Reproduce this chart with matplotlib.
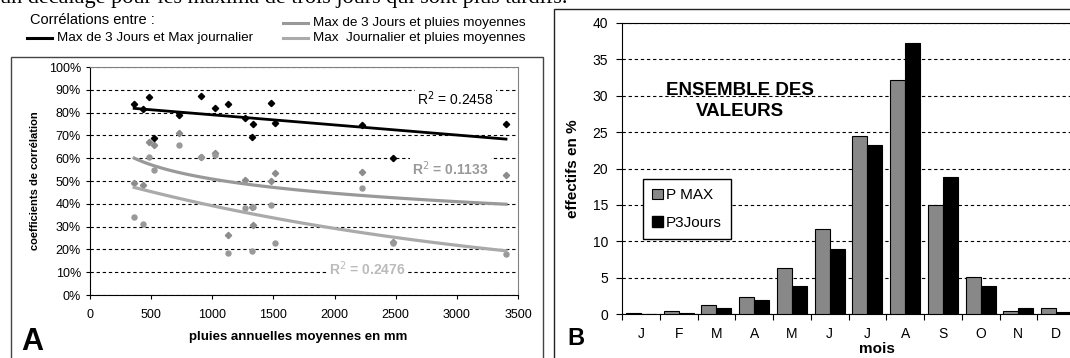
import numpy as np
import matplotlib
matplotlib.use('Agg')
import matplotlib.pyplot as plt
from matplotlib.lines import Line2D
from matplotlib.patches import Rectangle, Patch
from matplotlib.ticker import FuncFormatter

plt.rcParams['font.family'] = ['Liberation Sans', 'DejaVu Sans']

W, H = 1070, 358  # pixel size of the output

# ---- panel A : correlations vs annual rainfall (one value per station)
pluies = [361, 432, 484, 525, 727, 910, 1021, 1128, 1270, 1322, 1330, 1481, 1510, 2221, 2480, 3402]
corr_3j_journ = [83.6, 81.6, 87.0, 69.0, 78.8, 87.4, 81.9, 83.6, 77.5, 69.4, 74.9, 84.3, 75.3, 74.6, 60.2, 74.9]
corr_3j_pluies = [49.3, 48.4, 67.3, 65.6, 71.2, 60.7, 62.4, 26.5, 50.4, 38.5, 30.6, 50.2, 53.4, 54.1, 23.1, 52.6]
corr_journ_pluies = [34.3, 31.3, 60.4, 54.8, 66.0, 60.5, 61.3, 18.3, 38.0, 19.3, 38.7, 39.5, 22.7, 47.1, 23.0, 18.0]
r2_labels = ['0.2458', '0.1133', '0.2476']

# ---- panel B : monthly distribution of the maxima
mois = ['J', 'F', 'M', 'A', 'M', 'J', 'J', 'A', 'S', 'O', 'N', 'D']
p_max = [0.2, 0.4, 1.2, 2.4, 6.3, 11.7, 24.4, 32.2, 15.0, 5.1, 0.4, 0.8]
p_3jours = [0.05, 0.2, 0.8, 1.9, 3.9, 9.0, 23.2, 37.3, 18.8, 3.9, 0.8, 0.3]


def fx(px):
    return px / W


def fy(py):
    return 1 - py / H


fig = plt.figure(figsize=(W / 100, H / 100), dpi=100)

# clipped sentence of the surrounding document
fig.text(fx(0), fy(3), "un décalage pour les maxima de trois jours qui sont plus tardifs.",
         family=['Liberation Serif', 'DejaVu Serif'], fontsize=16, va='baseline', ha='left')

# frames of the two panels
fig.add_artist(Rectangle((fx(11), -0.02), fx(543 - 11), fy(57) + 0.02, transform=fig.transFigure,
                         fill=False, edgecolor='#444444', lw=1))
fig.add_artist(Rectangle((fx(554), -0.02), fx(600), fy(9) + 0.02, transform=fig.transFigure,
                         fill=False, edgecolor='#222222', lw=1))

# ---------------- panel A
c_noir, c_gris, c_clair = 'black', '#999999', '#aaaaaa'
axA = fig.add_axes([fx(90), fy(295), fx(518 - 90), (295 - 67) / H])
x = np.array(pluies, dtype=float)
xs = np.linspace(x.min(), x.max(), 100)

axA.plot(x, corr_3j_journ, 'D', color=c_noir, ms=3.2, zorder=4)
axA.plot(x, corr_3j_pluies, 'D', color='#8c8c8c', ms=3.2, zorder=3)
axA.plot(x, corr_journ_pluies, 'o', color='#999999', ms=3.6, zorder=3)

# excel-like trend lines: linear, logarithmic, exponential
a, b = np.polyfit(x, corr_3j_journ, 1)
axA.plot(xs, a * xs + b, color=c_noir, lw=2, zorder=5)
a, b = np.polyfit(np.log(x), corr_3j_pluies, 1)
axA.plot(xs, a * np.log(xs) + b, color=c_gris, lw=2.3, zorder=4)
a, b = np.polyfit(x, np.log(corr_journ_pluies), 1)
axA.plot(xs, np.exp(b) * np.exp(a * xs), color=c_clair, lw=2.3, zorder=4)

box = dict(facecolor='white', edgecolor='none', pad=1.5)
axA.text(2990, 86, 'R$^2$ = ' + r2_labels[0], fontsize=10, color='black', ha='center', va='center',
         bbox=box, zorder=6)
axA.text(2950, 55.5, 'R$^2$ = ' + r2_labels[1], fontsize=10, color=c_gris, fontweight='bold',
         ha='center', va='center', bbox=box, zorder=6)
axA.text(2270, 11.5, 'R$^2$ = ' + r2_labels[2], fontsize=10, color='#bbbbbb', fontweight='bold',
         ha='center', va='center', bbox=box, zorder=6)

axA.set_xlim(0, 3500)
axA.set_ylim(0, 100)
axA.set_xticks(range(0, 3501, 500))
axA.set_yticks(range(0, 101, 10))
axA.yaxis.set_major_formatter(FuncFormatter(lambda v, p: '%d%%' % v))
axA.tick_params(direction='out', length=3, labelsize=9)
axA.tick_params(axis='x', pad=7)
axA.grid(axis='y', color='black', linestyle=(0, (3, 2.5)), lw=0.8)
axA.set_axisbelow(True)
for s in ['top', 'right']:
    axA.spines[s].set_color('#808080')
axA.set_xlabel('pluies annuelles moyennes en mm', fontsize=9.5, fontweight='bold')
axA.xaxis.set_label_coords((298 - 90) / 428, -(337 - 295) / 228)
axA.xaxis.label.set_va('center')
axA.set_ylabel('coefficients de corrélation', fontsize=8, fontweight='bold')
axA.yaxis.set_label_coords(-(90 - 35) / 428, 0.5)
axA.yaxis.label.set_va('center')

fig.text(fx(21), fy(350), 'A', fontsize=22, fontweight='bold', va='baseline')

# legend of panel A, written above the frame
fig.text(fx(30), fy(20), 'Corrélations entre :', fontsize=10.5, va='center')
leg_items = [(27, 38, c_noir, 'Max de 3 Jours et Max journalier'),
             (283, 23, c_gris, 'Max de 3 Jours et pluies moyennes'),
             (283, 38, c_clair, 'Max  Journalier et pluies moyennes')]
for px, py, col, lab in leg_items:
    fig.add_artist(Line2D([fx(px), fx(px + 25)], [fy(py), fy(py)], color=col, lw=2.2,
                          transform=fig.transFigure))
    fig.text(fx(px + 30), fy(py), lab, fontsize=9.7, va='center')

# ---------------- panel B
axB = fig.add_axes([fx(622), fy(314), fx(1075 - 622), (314 - 23) / H])
pos = np.arange(len(mois))
axB.bar(pos - 0.2, p_max, 0.4, color='#888888', edgecolor='black', lw=0.8, zorder=3)
axB.bar(pos + 0.2, p_3jours, 0.4, color='black', edgecolor='black', lw=0.8, zorder=3)
axB.set_xlim(-0.5, len(mois) - 0.5)
axB.set_ylim(0, 40)
axB.set_yticks(range(0, 41, 5))
axB.set_xticks(np.arange(-0.5, len(mois), 1))
axB.set_xticklabels([])
axB.set_xticks(pos, minor=True)
axB.set_xticklabels(mois, minor=True)
axB.tick_params(which='major', direction='out', length=4, labelsize=10)
axB.tick_params(which='minor', length=0, pad=9, labelsize=10)
axB.tick_params(axis='y', pad=6)
axB.grid(axis='y', color='black', linestyle=(0, (3, 2.5)), lw=0.8)
axB.set_axisbelow(True)
axB.spines['right'].set_visible(False)

axB.set_xlabel('mois', fontsize=11, fontweight='bold')
axB.xaxis.set_label_coords((877 - 622) / 453, -(349 - 314) / 291)
axB.xaxis.label.set_va('center')
axB.set_ylabel('effectifs en %', fontsize=11, fontweight='bold')
axB.yaxis.set_label_coords(-(622 - 573) / 453, 0.5)
axB.yaxis.label.set_va('center')

axB.text((740 - 622) / 453, (314 - 101) / 291, 'ENSEMBLE DES\nVALEURS', transform=axB.transAxes,
         fontsize=13.5, fontweight='bold', ha='center', va='center', linespacing=1.25)

handles = [Patch(facecolor='#888888', edgecolor='black', lw=0.8, label='P MAX'),
           Patch(facecolor='black', edgecolor='black', label='P3Jours')]
axB.legend(handles=handles, loc='upper left', bbox_to_anchor=(0.046, 0.463), borderaxespad=0,
           fontsize=11, frameon=True, fancybox=False, edgecolor='black', framealpha=1,
           handlelength=0.7, handleheight=0.7, handletextpad=0.2, borderpad=0.6, labelspacing=0.9)

fig.text(fx(567), fy(345), 'B', fontsize=17, fontweight='bold', va='baseline')

fig.savefig('out.png', dpi=100)
